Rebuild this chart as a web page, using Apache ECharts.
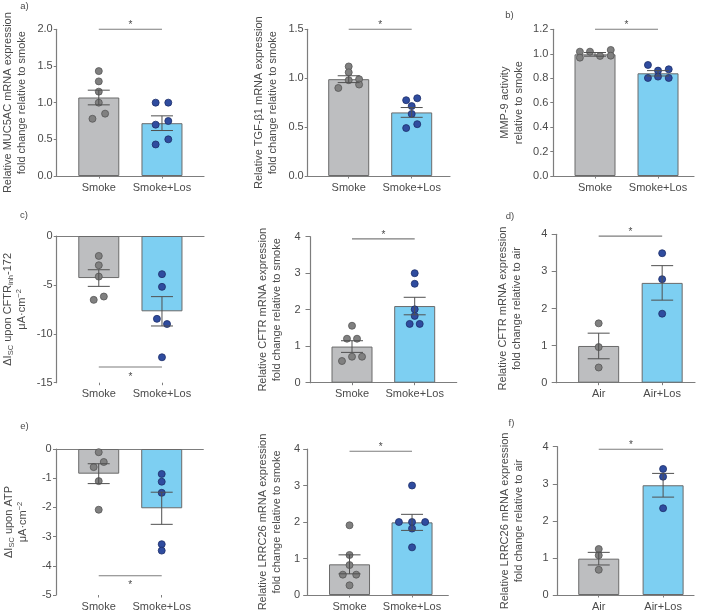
<!DOCTYPE html>
<html><head><meta charset="utf-8">
<script src="https://cdn.jsdelivr.net/npm/echarts@6/dist/echarts.min.js"></script>
<style>html,body{margin:0;padding:0;background:#fff}#c{width:706px;height:613px}</style>
</head><body><div id="c"></div>
<script>
// ---------- categories ----------
const catsSmoke = ['Smoke', 'Smoke+Los'];
const catsAir = ['Air', 'Air+Los'];

// ---------- panel a: MUC5AC ----------
const mucMean = [1.07, 0.72];
const mucSem = [0.10, 0.10];
const mucSmokePts = [[0,1.43],[0,1.29],[0,1.15],[0,1.0],[-0.1,0.78],[0.1,0.85]];
const mucLosPts = [[-0.1,1.0],[0.1,1.0],[-0.1,0.70],[0.1,0.75],[-0.1,0.43],[0.1,0.50]];
const mucSig = 2.0;

// ---------- TGF-beta1 ----------
const tgfMean = [0.99, 0.65];
const tgfSem = [0.035, 0.05];
const tgfSmokePts = [[0,1.12],[0,1.06],[0,0.98],[-0.165,0.90],[0.165,0.99],[0.165,0.935]];
const tgfLosPts = [[-0.088,0.775],[0.088,0.795],[0,0.715],[0,0.635],[-0.088,0.49],[0.088,0.53]];
const tgfSig = 1.5;

// ---------- panel b: MMP-9 ----------
const mmpMean = [0.995, 0.84];
const mmpSem = [0.015, 0.022];
const mmpSmokePts = [[-0.24,1.017],[-0.24,0.968],[-0.08,1.017],[0.08,0.982],[0.25,1.031],[0.25,0.984]];
const mmpLosPts = [[-0.16,0.908],[-0.16,0.802],[0,0.862],[0,0.813],[0.17,0.873],[0.17,0.802]];
const mmpSig = 1.2;

// ---------- panel c: dIsc CFTRinh-172 ----------
const cftrInhMean = [-4.3, -7.7];
const cftrInhSem = [0.85, 1.5];
const cftrInhSmokePts = [[0,-2.04],[0,-2.99],[0,-4.15],[-0.08,-6.53],[0.08,-6.19]];
const cftrInhLosPts = [[0,-3.9],[0,-5.2],[-0.08,-8.47],[0.08,-9.0],[0,-12.4]];
const cftrInhSig = -13.4;

// ---------- CFTR mRNA (smoke) ----------
const cftrMean = [0.99, 2.1];
const cftrSem = [0.16, 0.24];
const cftrSmokePts = [[0,1.56],[-0.08,1.205],[0.08,1.205],[-0.16,0.594],[0,0.712],[0.16,0.712]];
const cftrLosPts = [[0,3.0],[0,2.71],[0,2.01],[0,1.83],[-0.08,1.61],[0.08,1.61]];
const cftrSig = 3.94;

// ---------- panel d: CFTR mRNA (air) ----------
const cftrAirMean = [0.99, 2.69];
const cftrAirSem = [0.345, 0.465];
const cftrAirPts = [[0,1.6],[0,0.96],[0,0.41]];
const cftrAirLosPts = [[0,3.49],[0,2.79],[0,1.86]];
const cftrAirSig = 3.95;

// ---------- panel e: dIsc ATP ----------
const atpMean = [-0.845, -2.03];
const atpSem = [0.34, 0.55];
const atpSmokePts = [[0,-0.11],[-0.08,-0.62],[0.08,-0.445],[0,-1.1],[0,-2.08]];
const atpLosPts = [[0,-0.856],[0,-1.12],[0,-1.5],[0,-3.26],[0,-3.48]];
const atpSig = -4.34;

// ---------- LRRC26 mRNA (smoke) ----------
const lrrcMean = [0.84, 1.99];
const lrrcSem = [0.26, 0.22];
const lrrcSmokePts = [[0,1.91],[0,1.096],[0,0.82],[-0.107,0.557],[0.107,0.557],[0,0.265]];
const lrrcLosPts = [[0,3.0],[-0.21,2.0],[0,2.0],[0.21,2.0],[0,1.82],[0,1.305]];
const lrrcSig = 3.94;

// ---------- panel f: LRRC26 mRNA (air) ----------
const lrrcAirMean = [0.98, 2.96];
const lrrcAirSem = [0.17, 0.32];
const lrrcAirPts = [[0,1.24],[0,1.07],[0,0.68]];
const lrrcAirLosPts = [[0,3.4],[0,3.19],[0,2.34]];
const lrrcAirSig = 3.93;

// ---------- axis names ----------
const nameMuc = 'Relative MUC5AC mRNA expression\nfold change relative to smoke';
const nameTgf = 'Relative TGF-β1 mRNA expression\nfold change relative to smoke';
const nameMmp = 'MMP-9 activity\nrelative to smoke';
const nameCftrInh = '{n|ΔI}{s|SC}{n| upon CFTR}{s|inh}{n|-172}\n{n|μA·cm}{p|−2}';
const nameCftr = 'Relative CFTR mRNA expression\nfold change relative to smoke';
const nameCftrAir = 'Relative CFTR mRNA expression\nfold change relative to air';
const nameAtp = '{n|ΔI}{s|SC}{n| upon ATP}\n{n|μA·cm}{p|−2}';
const nameLrrc = 'Relative LRRC26 mRNA expression\nfold change relative to smoke';
const nameLrrcAir = 'Relative LRRC26 mRNA expression\nfold change relative to air';

const panelLetters = ['a)', 'b)', 'c)', 'd)', 'e)', 'f)'];

// ---------- styles / layout ----------
const FONT = '"Liberation Sans", Arial, sans-serif';
const TXT = '#4a4a4a';
const AX = '#7d7d7d';
const ERR = '#505050';
const BAR_COL = ['#bdbec0', '#7dcff2'];
const BAR_BORDER = '#6a6a6a';
const DOT_COL = ['#808080', '#2f4c9f'];
const DOT_BORDER = ['#555555', '#1d2e6a'];

const panels = [
  {cats:catsSmoke, mean:mucMean, sem:mucSem, pts:[mucSmokePts,mucLosPts], sig:mucSig, name:nameMuc,
   y:[0,2,0.5,1], box:[56.7,29.3,147.3,146.7], xr:[0.334,2.665], gap:28, lm:4, tl:3, neg:false},
  {cats:catsSmoke, mean:tgfMean, sem:tgfSem, pts:[tgfSmokePts,tgfLosPts], sig:tgfSig, name:nameTgf,
   y:[0,1.5,0.5,1], box:[307.7,29.3,142.3,146.7], xr:[0.349,2.608], gap:28, lm:4, tl:3, neg:false},
  {cats:catsSmoke, mean:mmpMean, sem:mmpSem, pts:[mmpSmokePts,mmpLosPts], sig:mmpSig, name:nameMmp,
   y:[0,1.2,0.2,1], box:[553.3,29.3,140.7,146.7], xr:[0.338,2.571], gap:28, lm:5, tl:3, neg:false},
  {cats:catsSmoke, mean:cftrInhMean, sem:cftrInhSem, pts:[cftrInhSmokePts,cftrInhLosPts], sig:cftrInhSig, name:nameCftrInh,
   y:[-15,0,5,0], box:[56.7,236,147.3,146.7], xr:[0.334,2.665], gap:28, lm:4, tl:3, neg:true},
  {cats:catsSmoke, mean:cftrMean, sem:cftrSem, pts:[cftrSmokePts,cftrLosPts], sig:cftrSig, name:nameCftr,
   y:[0,4,1,0], box:[310,236.7,146.7,146], xr:[0.33,2.67], gap:26.5, lm:9.5, tl:4.5, neg:false},
  {cats:catsAir, mean:cftrAirMean, sem:cftrAirSem, pts:[cftrAirPts,cftrAirLosPts], sig:cftrAirSig, name:nameCftrAir,
   y:[0,4,1,0], box:[556,234.3,139,148.4], xr:[0.328,2.517], gap:32.5, lm:8.7, tl:4.3, neg:false},
  {cats:catsSmoke, mean:atpMean, sem:atpSem, pts:[atpSmokePts,atpLosPts], sig:atpSig, name:nameAtp,
   y:[-5,0,1,0], box:[56,449,147.3,146], xr:[0.322,2.66], gap:26, lm:4.3, tl:3, neg:true},
  {cats:catsSmoke, mean:lrrcMean, sem:lrrcSem, pts:[lrrcSmokePts,lrrcLosPts], sig:lrrcSig, name:nameLrrc,
   y:[0,4,1,0], box:[307.7,449,140.6,146], xr:[0.331,2.58], gap:24, lm:7.5, tl:4.5, neg:false},
  {cats:catsAir, mean:lrrcAirMean, sem:lrrcAirSem, pts:[lrrcAirPts,lrrcAirLosPts], sig:lrrcAirSig, name:nameLrrcAir,
   y:[0,4,1,0], box:[557.3,446.7,136.7,148.3], xr:[0.356,2.48], gap:32, lm:8.6, tl:4.5, neg:false}
];
const letterPos = [[24.5,6.7],[509.5,15.5],[24,215],[510,216],[24.5,426.3],[511.5,423.3]];

const grid = [], xAxis = [], yAxis = [], series = [];
const axLine = {show:true, onZero:false, lineStyle:{color:AX, width:1.2}};

panels.forEach((p, i) => {
  grid.push({left:p.box[0], top:p.box[1], width:p.box[2], height:p.box[3], outerBoundsMode:'none', containLabel:false});
  const xi = xAxis.length;
  xAxis.push({
    gridIndex:i, type:'value', min:p.xr[0], max:p.xr[1], position:'bottom',
    axisLine: p.neg ? {show:false, onZero:false} : axLine,
    axisTick:{show:true, customValues:[1,2], length:2.5, lineStyle:{color:AX}},
    axisLabel:{show:true, customValues:[1,2], margin:6, color:TXT, fontSize:11, fontFamily:FONT,
      formatter:(v) => p.cats[Math.round(v) - 1] || ''},
    splitLine:{show:false}
  });
  if (p.neg) {
    xAxis.push({gridIndex:i, type:'value', min:p.xr[0], max:p.xr[1], position:'top',
      axisLine:axLine, axisTick:{show:false}, axisLabel:{show:false}, splitLine:{show:false}});
  }
  const dec = p.y[3];
  yAxis.push({
    gridIndex:i, type:'value', min:p.y[0], max:p.y[1], interval:p.y[2],
    axisLine:axLine,
    axisTick:{show:true, length:p.tl, lineStyle:{color:AX}},
    axisLabel:{margin:p.lm, color:TXT, fontSize:11, fontFamily:FONT, formatter:(v) => v.toFixed(dec)},
    splitLine:{show:false},
    name:p.name, nameLocation:'middle', nameRotate:90, nameGap:p.gap,
    nameTextStyle:{color:TXT, fontSize:11, fontFamily:FONT, lineHeight:13.5, align:'center',
      rich:{
        n:{color:TXT, fontSize:11, fontFamily:FONT, lineHeight:14},
        s:{color:TXT, fontSize:7.5, fontFamily:FONT, lineHeight:14, verticalAlign:'bottom'},
        p:{color:TXT, fontSize:7.5, fontFamily:FONT, lineHeight:14, verticalAlign:'top'}
      }}
  });
  // bars
  series.push({
    type:'bar', xAxisIndex:xi, yAxisIndex:i, barWidth:41, z:1, silent:true,
    data:p.mean.map((m, k) => ({value:[k + 1, m],
      itemStyle:{color:BAR_COL[k], borderColor:BAR_BORDER, borderWidth:1}}))
  });
  // dots
  p.pts.forEach((arr, k) => {
    series.push({
      type:'scatter', xAxisIndex:xi, yAxisIndex:i, symbol:'circle', symbolSize:7, z:3, silent:true,
      itemStyle:{color:DOT_COL[k], borderColor:DOT_BORDER[k], borderWidth:0.8, opacity:1},
      data:arr.map(d => [k + 1 + d[0], d[1]])
    });
  });
  // error bars (mean +- SEM)
  series.push({
    type:'custom', xAxisIndex:xi, yAxisIndex:i, z:4, silent:true,
    data:p.mean.map((m, k) => [k + 1, m, p.sem[k]]),
    renderItem:(params, api) => {
      const x = api.value(0), m = api.value(1), s = api.value(2);
      const t = api.coord([x, m + s]);
      const b = api.coord([x, m - s]);
      const hw = 11;
      const st = {stroke:ERR, lineWidth:1};
      return {type:'group', children:[
        {type:'line', shape:{x1:t[0], y1:t[1], x2:b[0], y2:b[1]}, style:st},
        {type:'line', shape:{x1:t[0] - hw, y1:t[1], x2:t[0] + hw, y2:t[1]}, style:st},
        {type:'line', shape:{x1:b[0] - hw, y1:b[1], x2:b[0] + hw, y2:b[1]}, style:st}
      ]};
    }
  });
  // significance bracket
  series.push({
    type:'custom', xAxisIndex:xi, yAxisIndex:i, z:4, silent:true,
    data:[[1, 2, p.sig]],
    renderItem:(params, api) => {
      const a = api.coord([api.value(0), api.value(2)]);
      const b = api.coord([api.value(1), api.value(2)]);
      const mid = (a[0] + b[0]) / 2;
      const sy = p.neg ? a[1] + 9.8 : a[1] - 3.8;
      return {type:'group', children:[
        {type:'line', shape:{x1:a[0], y1:a[1], x2:b[0], y2:b[1]}, style:{stroke:AX, lineWidth:1.1}},
        {type:'text', x:mid, y:sy, style:{text:'*', fontSize:10, fontFamily:FONT, fill:TXT,
          align:'center', verticalAlign:'middle'}}
      ]};
    }
  });
});

const graphic = panelLetters.map((t, i) => ({
  type:'text', x:letterPos[i][0], y:letterPos[i][1],
  style:{text:t, fontSize:9.5, fontFamily:FONT, fill:TXT, align:'center', verticalAlign:'middle'}
}));

const chart = echarts.init(document.getElementById('c'), null, {renderer:'canvas'});
chart.setOption({
  animation:false, backgroundColor:'#ffffff',
  textStyle:{fontFamily:FONT},
  grid, xAxis, yAxis, series, graphic
});
</script></body></html>
